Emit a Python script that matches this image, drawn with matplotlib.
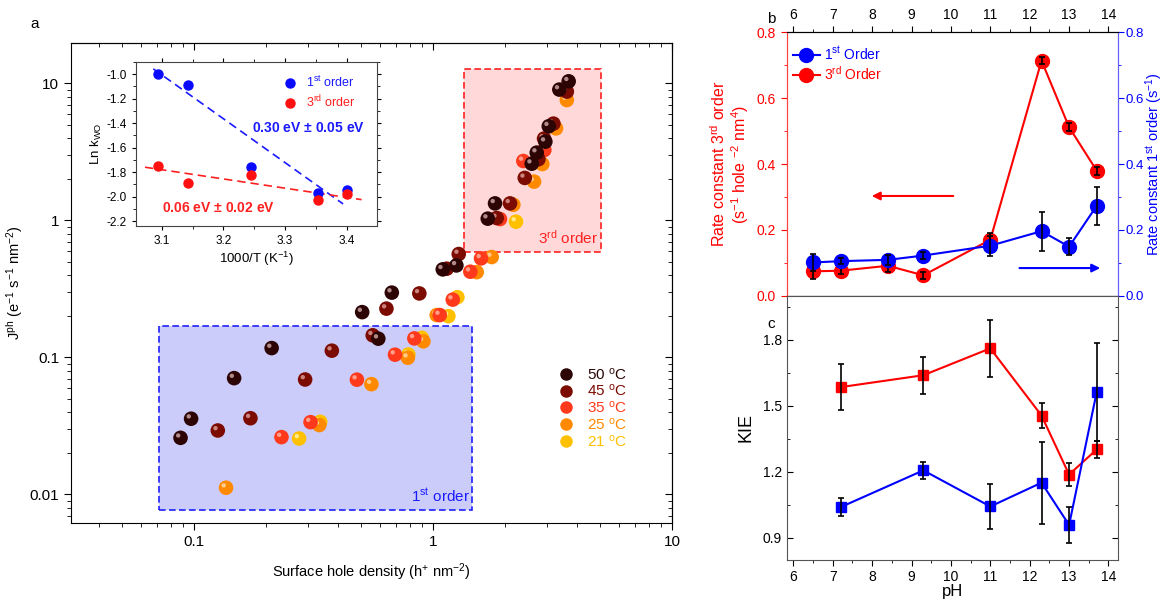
import numpy as np
import matplotlib
matplotlib.use("Agg")
import matplotlib.pyplot as plt
from matplotlib.lines import Line2D
from matplotlib.patches import Rectangle
from matplotlib.path import Path
from matplotlib.markers import MarkerStyle
from matplotlib.ticker import MultipleLocator, NullFormatter

plt.rcParams['font.family'] = ['Liberation Sans', 'DejaVu Sans']
plt.rcParams['axes.unicode_minus'] = False
plt.rcParams['mathtext.default'] = 'regular'

# ------------------------------------------------------------
# data : panel a (J_ph vs surface hole density)
# ------------------------------------------------------------
temps = ["50 $^o$C", "45 $^o$C", "35 $^o$C", "25 $^o$C", "21 $^o$C"]
t_colors = ["#2c0404", "#7c0c02", "#ff3a1c", "#ff8a00", "#ffc000"]
t_hl = ["#c9a2a2", "#d89a94", "#ffb0a0", "#ffd8a8", "#fff2a8"]

h50 = [0.0877, 0.0971, 0.147, 0.211, 0.590, 0.505, 0.672, 1.098, 1.252, 1.694, 1.817,
       2.588, 2.716, 2.951, 3.05, 3.377, 3.695]
j50 = [0.0259, 0.0357, 0.0706, 0.117, 0.137, 0.214, 0.297, 0.439, 0.469, 1.029, 1.33,
       2.59, 3.12, 3.75, 4.86, 9.0, 10.34]
h45 = [0.1256, 0.172, 0.2914, 0.377, 0.559, 0.638, 0.876, 1.141, 1.281, 1.847, 2.10,
       2.42, 2.76, 2.914, 3.19, 3.63]
j45 = [0.0293, 0.0360, 0.069, 0.112, 0.145, 0.227, 0.293, 0.444, 0.568, 1.04, 1.33,
       2.04, 2.79, 3.95, 5.08, 8.7]
h35 = [0.232, 0.307, 0.480, 0.693, 0.835, 1.067, 1.209, 1.432, 1.588, 1.906, 2.387, 2.922]
j35 = [0.0262, 0.0337, 0.0688, 0.1047, 0.1376, 0.2037, 0.264, 0.422, 0.528, 1.022, 2.71, 3.26]
h25 = [0.136, 0.334, 0.552, 0.784, 0.911, 1.036, 1.523, 1.76, 2.168, 2.647, 2.867, 3.27, 3.63]
j25 = [0.0112, 0.0321, 0.0638, 0.0995, 0.131, 0.2037, 0.419, 0.54, 1.30, 1.917, 2.576, 4.69, 7.55]
h21 = [0.275, 0.337, 0.788, 0.897, 1.159, 1.264, 2.224]
j21 = [0.0256, 0.0339, 0.105, 0.139, 0.200, 0.275, 0.978]

box1 = [0.0716, 1.45, 0.00768, 0.169]   # x0, x1, y0, y1 (1st order region)
box3 = [1.348, 5.05, 0.587, 12.65]      # 3rd order region

# inset : Arrhenius
inv_T = [3.0945, 3.143, 3.245, 3.354, 3.3996]
lnk_1st = [-1.0, -1.085, -1.758, -1.968, -1.949]
lnk_3rd = [-1.75, -1.89, -1.82, -2.025, -1.98]
fit1_x = [3.0865, 3.394]
fit1_y = [-0.956, -2.06]
fit3_x = [3.073, 3.424]
fit3_y = [-1.76, -2.025]

# ------------------------------------------------------------
# data : panel b / c (pH dependence)
# ------------------------------------------------------------
pH_b = [6.5, 7.2, 8.4, 9.3, 11.0, 12.3, 13.0, 13.7]
k3 = [0.074, 0.076, 0.091, 0.062, 0.170, 0.714, 0.512, 0.380]
k3_err = [0.022, 0.010, 0.020, 0.010, 0.020, 0.010, 0.012, 0.012]
k1 = [0.101, 0.105, 0.109, 0.122, 0.152, 0.196, 0.149, 0.273]
k1_err = [0.025, 0.010, 0.015, 0.010, 0.030, 0.059, 0.025, 0.058]

pH_c = [7.2, 9.3, 11.0, 12.3, 13.0, 13.7]
kie3 = [1.585, 1.639, 1.761, 1.456, 1.188, 1.302]
kie3_err = [0.106, 0.084, 0.128, 0.057, 0.052, 0.038]
kie1 = [1.040, 1.207, 1.043, 1.151, 0.959, 1.562]
kie1_err = [0.042, 0.040, 0.100, 0.187, 0.080, 0.222]

# ------------------------------------------------------------
# sphere look : offset highlight marker
# ------------------------------------------------------------
spot_path = Path.circle((-0.16, 0.16), 0.15)
spot = MarkerStyle(spot_path)
spot_ratio = (0.16 + 0.15) / 0.5


def spheres(ax, x, y, col, hl, ms, z):
    ax.scatter(x, y, s=ms ** 2, c=col, edgecolors='none', zorder=z)
    ax.scatter(x, y, s=(ms * spot_ratio) ** 2, marker=spot, c=hl,
               edgecolors='none', alpha=0.85, zorder=z + 0.01)


fig = plt.figure(figsize=(11.63, 5.99), dpi=100)

# ============================================================
# panel a
# ============================================================
ax = fig.add_axes([0.0610, 0.127, 0.5168, 0.8008])
ax.set_xscale('log')
ax.set_yscale('log')
ax.set_xlim(0.0305, 10)
ax.set_ylim(0.0062, 19.6)

ax.add_patch(Rectangle((box1[0], box1[2]), box1[1] - box1[0], box1[3] - box1[2],
                       facecolor='#ccccfb', edgecolor='#2020ff', lw=1.2,
                       linestyle=(0, (4, 2)), zorder=1))
ax.add_patch(Rectangle((box3[0], box3[2]), box3[1] - box3[0], box3[3] - box3[2],
                       facecolor='#ffd9d9', edgecolor='#ff2020', lw=1.2,
                       linestyle=(0, (4, 2)), zorder=1))
ax.text(1.42, 0.0084, "1$^{st}$ order", color='#1a1aff', fontsize=11,
        ha='right', va='bottom', zorder=2)
ax.text(4.9, 0.64, "3$^{rd}$ order", color='#ff2020', fontsize=11,
        ha='right', va='bottom', zorder=2)

series = [(h50, j50), (h45, j45), (h35, j35), (h25, j25), (h21, j21)]
for i in range(4, -1, -1):
    hx, jy = series[i]
    spheres(ax, hx, jy, t_colors[i], t_hl[i], 10.5, 10 - i)

ax.set_xticks([0.1, 1, 10], ['0.1', '1', '10'])
ax.set_yticks([0.01, 0.1, 1, 10], ['0.01', '0.1', '1', '10'])
ax.xaxis.set_minor_formatter(NullFormatter())
ax.yaxis.set_minor_formatter(NullFormatter())
ax.tick_params(which='both', direction='out', labelsize=11)
ax.tick_params(which='major', length=5)
ax.tick_params(which='minor', length=3)
for side in ('top', 'right'):
    sec = ax.secondary_xaxis('top') if side == 'top' else ax.secondary_yaxis('right')
    sec.tick_params(which='both', direction='in', labelsize=0)
    sec.tick_params(which='major', length=5)
    sec.tick_params(which='minor', length=3)
    axis = sec.xaxis if side == 'top' else sec.yaxis
    axis.set_major_formatter(NullFormatter())
    axis.set_minor_formatter(NullFormatter())

ax.set_xlabel("Surface hole density (h$^{+}$ nm$^{-2}$)", fontsize=10.5, labelpad=9)
ax.set_ylabel("J$^{ph}$ (e$^{-1}$ s$^{-1}$ nm$^{-2}$)", fontsize=10.5, labelpad=3)

leg_handles = [Line2D([], [], ls='none', marker='o', ms=9, mfc=c, mec='none')
               for c in t_colors]
leg = ax.legend(leg_handles, temps, loc='center left', bbox_to_anchor=(0.798, 0.24),
                frameon=False, fontsize=11, handlelength=1.0, handletextpad=0.9,
                labelspacing=0.05, borderpad=0, labelcolor=t_colors)

fig.text(0.0258, 0.953, "a", fontsize=11)

# inset
axi = fig.add_axes([0.1167, 0.6232, 0.2075, 0.2733])
axi.set_xlim(3.058, 3.449)
axi.set_ylim(-2.238, -0.90)
axi.plot(fit1_x, fit1_y, color='#1a1aff', lw=1.2, ls=(0, (5, 3)))
axi.plot(fit3_x, fit3_y, color='#ff2020', lw=1.2, ls=(0, (5, 3)))
axi.plot(inv_T, lnk_1st, 'o', color='#0a0aff', ms=6.5, ls='none', label="1$^{st}$ order")
axi.plot(inv_T, lnk_3rd, 'o', color='#ff1010', ms=6.5, ls='none', label="3$^{rd}$ order")
axi.set_xticks([3.1, 3.2, 3.3, 3.4])
axi.set_yticks(np.arange(-2.2, -0.95, 0.2))
axi.set_yticklabels(["%.1f" % v for v in np.arange(-2.2, -0.95, 0.2)])
axi.xaxis.set_minor_locator(MultipleLocator(0.05))
axi.yaxis.set_minor_locator(MultipleLocator(0.1))
axi.tick_params(which='both', labelsize=8.5, top=True, right=True, direction='out')
axi.tick_params(which='major', length=3)
axi.tick_params(which='minor', length=2)
axi.set_xlabel("1000/T (K$^{-1}$)", fontsize=9.5, labelpad=2)
axi.set_ylabel("Ln k$_{WO}$", fontsize=9.5, labelpad=2)
axi.text(3.246, -1.44, "0.30 eV $\\pm$ 0.05 eV", color='#1a1aff', fontsize=10,
         fontweight='bold', va='center')
axi.text(3.1, -2.094, "0.06 eV $\\pm$ 0.02 eV", color='#ff2020', fontsize=10,
         fontweight='bold', va='center')
axi.legend(loc='upper right', bbox_to_anchor=(0.96, 0.99), frameon=False, fontsize=9,
           handlelength=1.0, handletextpad=0.8, labelspacing=0.3,
           labelcolor=['#1a1aff', '#ff2020'])
for s in axi.spines.values():
    s.set_color('#444444')

# ============================================================
# panel b
# ============================================================
axb = fig.add_axes([0.6764, 0.5063, 0.2852, 0.4397])
axb2 = axb.twinx()
axb.set_xlim(5.83, 14.25)
axb.set_ylim(0, 0.8)
axb2.set_ylim(0, 0.8)

axb.plot(pH_b, k3, '-o', color='#ff0000', ms=10, lw=1.5, zorder=3)
axb.errorbar(pH_b, k3, yerr=k3_err, fmt='none', ecolor='black', elinewidth=1.2,
             capsize=2.5, capthick=1.2, zorder=4)
axb2.plot(pH_b, k1, '-o', color='#0000ff', ms=10, lw=1.5, zorder=3)
axb2.errorbar(pH_b, k1, yerr=k1_err, fmt='none', ecolor='black', elinewidth=1.2,
              capsize=2.5, capthick=1.2, zorder=4)

axb.xaxis.tick_top()
axb.set_xticks(range(6, 15))
axb.xaxis.set_minor_locator(MultipleLocator(0.5))
axb.yaxis.set_major_locator(MultipleLocator(0.2))
axb.yaxis.set_minor_locator(MultipleLocator(0.1))
axb2.yaxis.set_major_locator(MultipleLocator(0.2))
axb2.yaxis.set_minor_locator(MultipleLocator(0.1))
axb.tick_params(axis='x', which='both', labelsize=10, direction='out')
axb.tick_params(axis='y', which='both', colors='#ff0000', labelsize=10, direction='out')
axb2.tick_params(axis='y', which='both', colors='#0000ff', labelsize=9.5, direction='out',
                 pad=1.5)
for a in (axb, axb2):
    a.tick_params(which='major', length=4)
    a.tick_params(which='minor', length=2)
axb.spines['left'].set_color('#ff4040')
axb2.spines['left'].set_color('#ff4040')
axb2.spines['right'].set_color('#6060ff')
axb.spines['right'].set_color('#6060ff')
axb.set_ylabel("Rate constant 3$^{rd}$ order\n(s$^{-1}$ hole $^{-2}$ nm$^{4}$)",
               color='#ff0000', fontsize=11.5, labelpad=4, linespacing=1.1)
fig.text(1154 / 1163, 0.726, "Rate constant 1$^{st}$ order (s$^{-1}$)", color='#0000ff',
         fontsize=10.5, rotation=90, ha='center', va='center')

axb.annotate('', xy=(7.92, 0.303), xytext=(10.13, 0.303),
             arrowprops=dict(arrowstyle='-|>', color='#ff0000', lw=1.5, mutation_scale=12))
axb.annotate('', xy=(13.86, 0.084), xytext=(11.67, 0.084),
             arrowprops=dict(arrowstyle='-|>', color='#0000ff', lw=1.5, mutation_scale=12))

hb = [Line2D([], [], color='#0000ff', marker='o', ms=10, lw=1.5),
      Line2D([], [], color='#ff0000', marker='o', ms=10, lw=1.5)]
axb2.legend(hb, ["1$^{st}$ Order", "3$^{rd}$ Order"], loc='upper left',
            bbox_to_anchor=(-0.02, 1.0), frameon=False, fontsize=10, handlelength=2.0,
            handletextpad=0.3, labelspacing=0.2, borderpad=0.4,
            labelcolor=['#0000ff', '#ff0000'])
fig.text(0.6595, 0.962, "b", fontsize=11)

# ============================================================
# panel c
# ============================================================
axc = fig.add_axes([0.6764, 0.0651, 0.2852, 0.4412])
axc.set_xlim(5.83, 14.25)
axc.set_ylim(0.8, 2.0)
axc.plot(pH_c, kie3, '-s', color='#ff0000', ms=7.5, lw=1.5, zorder=3)
axc.errorbar(pH_c, kie3, yerr=kie3_err, fmt='none', ecolor='black', elinewidth=1.2,
             capsize=2.5, capthick=1.2, zorder=4)
axc.plot(pH_c, kie1, '-s', color='#0000ff', ms=7.5, lw=1.5, zorder=3)
axc.errorbar(pH_c, kie1, yerr=kie1_err, fmt='none', ecolor='black', elinewidth=1.2,
             capsize=2.5, capthick=1.2, zorder=4)
axc.set_xticks(range(6, 15))
axc.xaxis.set_minor_locator(MultipleLocator(0.5))
axc.set_yticks([0.9, 1.2, 1.5, 1.8])
axc.yaxis.set_minor_locator(MultipleLocator(0.15))
axc.tick_params(axis='x', which='both', direction='out', labelsize=10)
axc.tick_params(axis='y', which='both', direction='in', right=True, labelsize=10)
axc.tick_params(which='major', length=4)
axc.tick_params(which='minor', length=2)
axc.set_xlabel("pH", fontsize=12, labelpad=0)
axc.set_ylabel("KIE", fontsize=13, labelpad=6)
for s in axc.spines.values():
    s.set_color('#555555')
fig.text(0.6595, 0.452, "c", fontsize=11)

fig.savefig("out.png", dpi=100)
